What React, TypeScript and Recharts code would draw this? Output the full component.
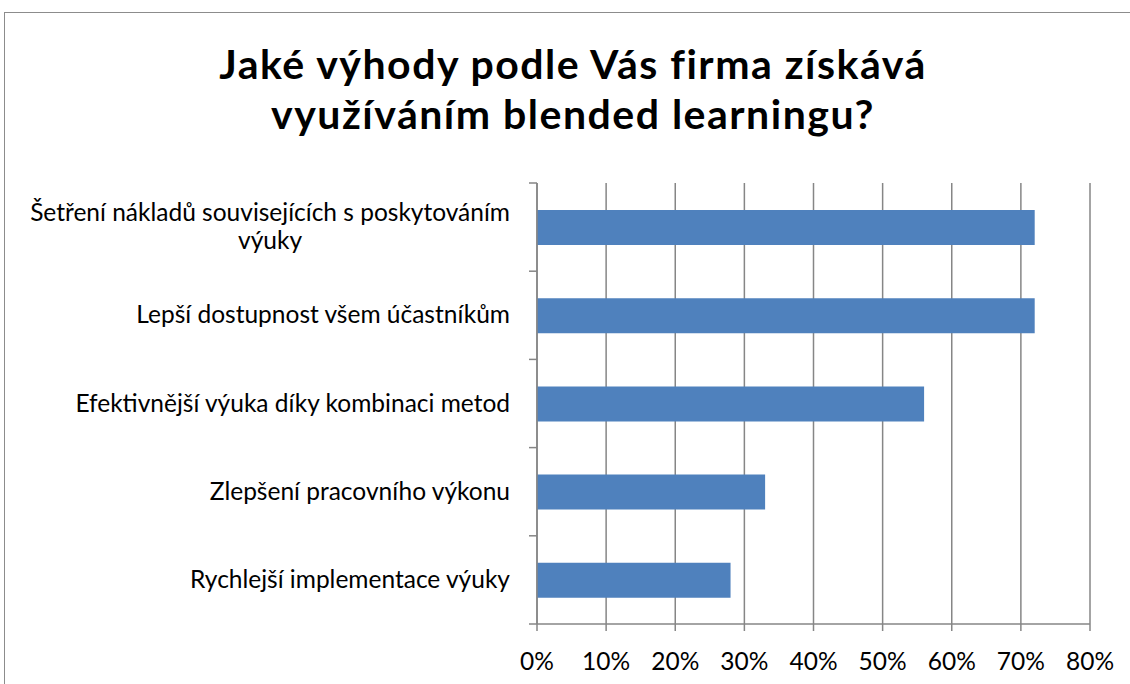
import { BarChart, Bar, XAxis, YAxis, CartesianGrid } from 'recharts';

const categories = [
    'Šetření nákladů souvisejících s poskytováním\nvýuky',
    'Lepší dostupnost všem účastníkům',
    'Efektivnější výuka díky kombinaci metod',
    'Zlepšení pracovního výkonu',
    'Rychlejší implementace výuky',
];
const shares = [0.72, 0.72, 0.56, 0.33, 0.28];
const xTicks = [0, 0.1, 0.2, 0.3, 0.4, 0.5, 0.6, 0.7, 0.8];

const data = categories.map((name, i) => ({ name, value: shares[i] }));

const FONT = 'Lato, "Open Sans", sans-serif';
const LABEL_SIZE = 24.5;
const PLOT_TOP = 183;
const PLOT_BOTTOM = 60;
const CHART_H = 684;
const BAND = (CHART_H - PLOT_TOP - PLOT_BOTTOM) / categories.length;

let ctx: CanvasRenderingContext2D | null = null;
function textWidth(s: string) {
    if (!ctx) ctx = document.createElement('canvas').getContext('2d');
    if (!ctx) return s.length * 11;
    ctx.font = `${LABEL_SIZE}px Lato`;
    return ctx.measureText(s).width;
}

function CategoryTick(props: any) {
    const { y, payload, index } = props;
    const lines: string[] = String(payload.value).split('\n');
    const right = 510;
    const axisX = 537;
    const widest = Math.max(...lines.map(textWidth));
    const lineH = 28;
    const startY = y - ((lines.length - 1) * lineH) / 2;
    return (
        <g>
            <line x1={axisX - 8} x2={axisX} y1={y - BAND / 2} y2={y - BAND / 2} stroke="#868686" strokeWidth={1.5} />
            {index === categories.length - 1 && (
                <line x1={axisX - 8} x2={axisX} y1={y + BAND / 2} y2={y + BAND / 2} stroke="#868686" strokeWidth={1.5} />
            )}
            {lines.map((l, i) => (
                <text
                    key={i}
                    x={lines.length > 1 ? right - widest / 2 : right}
                    y={startY + i * lineH}
                    dy={8}
                    textAnchor={lines.length > 1 ? 'middle' : 'end'}
                    fontFamily={FONT}
                    fontSize={LABEL_SIZE}
                    fill="#000"
                >
                    {l}
                </text>
            ))}
        </g>
    );
}

export default function App() {
    return (
        <div style={{ position: 'absolute', left: 0, top: 0, width: 1130, height: 684, background: '#fff', overflow: 'hidden' }}>
            <div
                style={{
                    position: 'absolute',
                    left: 4,
                    top: 12,
                    width: 1140,
                    height: 700,
                    border: '1.5px solid #8c8c8c',
                    boxSizing: 'border-box',
                }}
            />
            <div
                style={{
                    position: 'absolute',
                    left: 0,
                    top: 39,
                    width: 1146,
                    textAlign: 'center',
                    fontFamily: FONT,
                    fontWeight: 'bold',
                    fontSize: 41,
                    letterSpacing: 1.5,
                    lineHeight: '50px',
                    color: '#000',
                }}
            >
                Jaké výhody podle Vás firma získává
                <br />
                využíváním blended learningu?
            </div>
            <div style={{ position: 'absolute', left: 0, top: 0 }}>
                <BarChart
                    width={1130}
                    height={CHART_H}
                    data={data}
                    layout="vertical"
                    margin={{ top: PLOT_TOP, right: 40, bottom: 0, left: 0 }}
                >
                    <CartesianGrid horizontal={false} stroke="#868686" strokeWidth={1.5} />
                    <XAxis
                        type="number"
                        domain={[0, 0.8]}
                        ticks={xTicks}
                        interval={0}
                        tickFormatter={(v: number) => `${Math.round(v * 100)}%`}
                        tick={{ fontFamily: FONT, fontSize: LABEL_SIZE, fill: '#000' }}
                        axisLine={{ stroke: '#868686', strokeWidth: 1.5 }}
                        tickLine={{ stroke: '#868686', strokeWidth: 1.5 }}
                        tickSize={7}
                        tickMargin={22}
                        height={PLOT_BOTTOM}
                    />
                    <YAxis
                        type="category"
                        dataKey="name"
                        width={537}
                        tick={<CategoryTick />}
                        tickLine={false}
                        axisLine={{ stroke: '#868686', strokeWidth: 1.5 }}
                        interval={0}
                    />
                    <Bar dataKey="value" fill="#4f81bd" barSize={35} isAnimationActive={false} />
                </BarChart>
            </div>
        </div>
    );
}
